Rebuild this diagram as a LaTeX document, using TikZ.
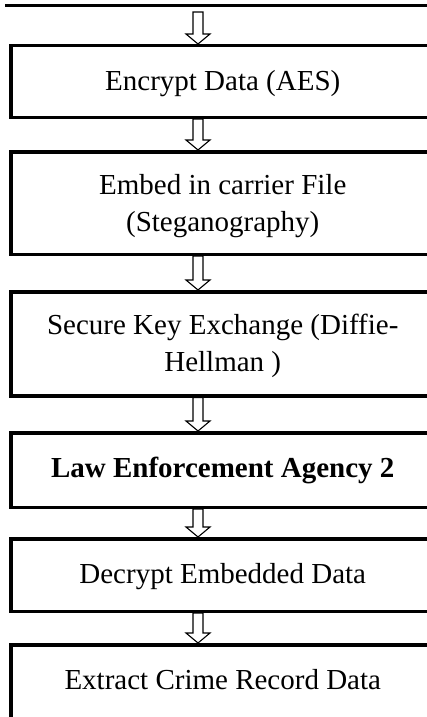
\documentclass[tikz,border=0pt]{standalone}
\usepackage{fontspec}
\setmainfont{Liberation Serif}
\usetikzlibrary{calc}
\tikzset{
  flowbox/.style={draw=black, line width=3.5pt, rectangle, minimum width=424pt, anchor=north west, inner sep=0pt},
  boxtext/.style={anchor=base, align=center, font=\fontsize{29}{37}\selectfont, inner sep=0pt},
  hollowarrow/.style={draw=black, fill=white, line width=1.1pt, line join=miter},
  toprule/.style={draw=black, line width=3pt}
}
\newcommand\blockarr[2]{%
  \draw[hollowarrow] let \p1=(#1), \p2=(#2) in
    (193pt,\y1) -- (203pt,\y1) -- (203pt,\y2+10pt) -- (210pt,\y2+10pt) --
    (198pt,\y2) -- (186pt,\y2+10pt) -- (193pt,\y2+10pt) -- cycle;}
\begin{document}
\begin{tikzpicture}
\useasboundingbox (0,0) rectangle (427pt,-717pt);
\fill[white] (0,0) rectangle (427pt,-717pt);
% top rule
\coordinate (ruleL) at (5pt,-5.5pt);
\coordinate (ruleR) at (430pt,-5.5pt);
\draw[toprule] (ruleL) -- (ruleR);
\coordinate (start) at (198pt,-12pt);
% boxes
\node[flowbox, minimum height=71.5pt]  (b1) at (9pt,-44pt) {};
\node[flowbox, minimum height=102.5pt] (b2) at (9pt,-150pt) {};
\node[flowbox, minimum height=104pt]   (b3) at (9pt,-290pt) {};
\node[flowbox, minimum height=74.5pt]  (b4) at (9pt,-431pt) {};
\node[flowbox, minimum height=72.5pt]  (b5) at (9pt,-537pt) {};
\node[flowbox, minimum height=74.5pt]  (b6) at (9pt,-643pt) {};
% texts (anchor=base is the last line's baseline)
\node[boxtext] (t1) at ($(b1.north)+(0,-46pt)$) {Encrypt Data (AES)};
\node[boxtext] (t2) at ($(b2.north)+(0,-81pt)$) {Embed in carrier File\\(Steganography)};
\node[boxtext] (t3) at ($(b3.north)+(0,-81pt)$) {Secure Key Exchange (Diffie-\\Hellman )};
\node[boxtext] (t4) at ($(b4.north)+(0,-46pt)$) {\textbf{Law Enforcement Agency 2}};
\node[boxtext] (t5) at ($(b5.north)+(0,-46pt)$) {Decrypt Embedded Data};
\node[boxtext] (t6) at ($(b6.north)+(0,-46pt)$) {Extract Crime Record Data};
% arrows
\blockarr{start}{b1.north}
\blockarr{b1.south}{b2.north}
\blockarr{b2.south}{b3.north}
\blockarr{b3.south}{b4.north}
\blockarr{b4.south}{b5.north}
\blockarr{b5.south}{b6.north}
\end{tikzpicture}
\end{document}
